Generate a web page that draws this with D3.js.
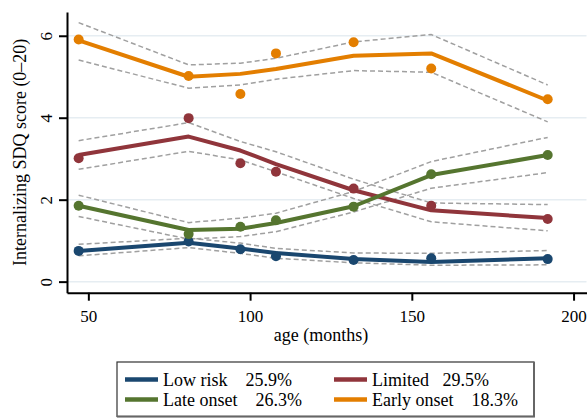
<!DOCTYPE html>
<html>
<head>
<meta charset="utf-8">
<script src="https://cdn.jsdelivr.net/npm/d3@7"></script>
<style>
  body { margin: 0; background: #fff; }
  svg, .axis { font-family: "Liberation Serif", "Times New Roman", serif; }
  .axis path, .axis line { stroke: #000; stroke-width: 2; }
  .axis text { font-size: 17px; fill: #000; }
  .grid line { stroke: #e6edf2; stroke-width: 1.5; }
  .ci { fill: none; stroke: #a0a0a0; stroke-width: 1.5; stroke-dasharray: 5,3; }
  .fit { fill: none; stroke-width: 4; stroke-linejoin: round; }
  .legend text { font-size: 18px; white-space: pre; }
</style>
</head>
<body>
<svg width="588" height="418" viewBox="0 0 588 418"></svg>
<script>
let ages = [47, 81, 97, 108, 132, 156, 192];

let groups = ["Low risk", "Limited", "Late onset", "Early onset"];
let shares = ["25.9%", "29.5%", "26.3%", "18.3%"];
let colors = ["#1a476f", "#90353b", "#55752f", "#e37e00"];

// observed means
let lowObs = [0.75, 0.98, 0.79, 0.62, 0.53, 0.57, 0.55];
let limObs = [3.01, 3.99, 2.89, 2.68, 2.27, 1.85, 1.53];
let lateObs = [1.85, 1.16, 1.34, 1.5, 1.83, 2.62, 3.09];
let earlyObs = [5.91, 5.02, 4.58, 5.57, 5.84, 5.2, 4.45];

// model estimates
let lowFit = [0.75, 0.95, 0.81, 0.7, 0.55, 0.48, 0.57];
let limFit = [3.09, 3.54, 3.2, 2.87, 2.23, 1.74, 1.55];
let lateFit = [1.85, 1.26, 1.29, 1.43, 1.84, 2.6, 3.09];
let earlyFit = [5.89, 5.0, 5.07, 5.19, 5.51, 5.57, 4.42];

// confidence bounds
let lowLo = [0.63, 0.83, 0.69, 0.57, 0.46, 0.4, 0.41];
let lowHi = [0.91, 1.06, 0.94, 0.81, 0.7, 0.69, 0.76];
let limLo = [2.74, 3.18, 2.97, 2.68, 2.03, 1.46, 1.24];
let limHi = [3.44, 3.88, 3.42, 3.17, 2.5, 1.92, 1.88];
let lateLo = [1.59, 1.04, 1.1, 1.22, 1.7, 2.28, 2.66];
let lateHi = [2.11, 1.44, 1.55, 1.67, 2.2, 2.93, 3.52];
let earlyLo = [5.41, 4.72, 4.8, 4.94, 5.15, 5.11, 3.9];
let earlyHi = [6.32, 5.29, 5.33, 5.45, 5.85, 6.03, 4.8];

let xTicks = [50, 100, 150, 200];
let yTicks = [0, 2, 4, 6];

let series = [
  { obs: lowObs, fit: lowFit, lo: lowLo, hi: lowHi },
  { obs: limObs, fit: limFit, lo: limLo, hi: limHi },
  { obs: lateObs, fit: lateFit, lo: lateLo, hi: lateHi },
  { obs: earlyObs, fit: earlyFit, lo: earlyLo, hi: earlyHi },
].map((s, i) => ({ ...s, name: groups[i], share: shares[i], color: colors[i] }));

let svg = d3.select("svg");
let plot = { left: 67, right: 586.5, top: 12, bottom: 292.7 };

let xScale = d3.scaleLinear().domain([43.4, 204]).range([plot.left, plot.right]);
let yScale = d3.scaleLinear().domain([-0.27, 6.58]).range([plot.bottom, plot.top]);

svg
  .append("g")
  .attr("class", "grid")
  .selectAll("line")
  .data(yTicks)
  .enter()
  .append("line")
  .attr("x1", plot.left)
  .attr("x2", plot.right)
  .attr("y1", (d) => yScale(d))
  .attr("y2", (d) => yScale(d));

let line = (vals) =>
  d3
    .line()
    .x((d, i) => xScale(ages[i]))
    .y((d) => yScale(d))(vals);

let fig = svg.append("g");

series.forEach((s) => {
  fig.append("path").attr("class", "ci").attr("d", line(s.lo));
  fig.append("path").attr("class", "ci").attr("d", line(s.hi));
});

series.forEach((s) => {
  fig.append("path").attr("class", "fit").attr("stroke", s.color).attr("d", line(s.fit));
  fig
    .selectAll(null)
    .data(s.obs)
    .enter()
    .append("circle")
    .attr("cx", (d, i) => xScale(ages[i]))
    .attr("cy", (d) => yScale(d))
    .attr("r", 5)
    .attr("fill", s.color);
});

let xAxis = svg
  .append("g")
  .attr("class", "axis")
  .attr("transform", `translate(0,${plot.bottom})`)
  .call(d3.axisBottom(xScale).tickValues(xTicks).tickFormat(d3.format("d")).tickSize(8).tickSizeOuter(0));
xAxis.selectAll("text").attr("y", 29).attr("dy", 0);

let yAxis = svg
  .append("g")
  .attr("class", "axis")
  .attr("transform", `translate(${plot.left},0)`)
  .call(d3.axisLeft(yScale).tickValues(yTicks).tickFormat(d3.format("d")).tickSize(8).tickSizeOuter(0));
yAxis
  .selectAll("text")
  .attr("transform", "rotate(-90)")
  .attr("x", 0)
  .attr("y", -15)
  .attr("dy", 0)
  .attr("text-anchor", "middle");

svg
  .append("text")
  .attr("x", 321)
  .attr("y", 341)
  .attr("text-anchor", "middle")
  .style("font-size", "18px")
  .text("age (months)");

svg
  .append("text")
  .attr("transform", `translate(26,${(plot.top + plot.bottom) / 2}) rotate(-90)`)
  .attr("text-anchor", "middle")
  .style("font-size", "18px")
  .text("Internalizing SDQ score (0\u201320)");

let legendBox = { x: 117, y: 362, w: 417, h: 54.5 };
let legendG = svg.append("g").attr("class", "legend");
legendG
  .append("rect")
  .attr("x", legendBox.x)
  .attr("y", legendBox.y)
  .attr("width", legendBox.w)
  .attr("height", legendBox.h)
  .attr("fill", "#fff")
  .attr("stroke", "#333")
  .attr("stroke-width", 1.2);
legendG
  .append("path")
  .attr("d", `M${legendBox.x},${legendBox.y + legendBox.h}H${legendBox.x + legendBox.w}V${legendBox.y}`)
  .attr("fill", "none")
  .attr("stroke", "#666")
  .attr("stroke-width", 2);

let gaps = ["    ", "   ", "    ", "    "];
let item = legendG
  .selectAll(".item")
  .data(series)
  .enter()
  .append("g")
  .attr("class", "item")
  .attr("transform", (d, i) => `translate(${i % 2 === 0 ? 125 : 334},${i < 2 ? 379.5 : 399.5})`);

item
  .append("line")
  .attr("x1", 0)
  .attr("x2", 33)
  .attr("stroke", (d) => d.color)
  .attr("stroke-width", 4.3);
item
  .append("text")
  .attr("x", 38)
  .attr("y", 6.5)
  .text((d, i) => d.name + gaps[i] + d.share);
</script>
</body>
</html>
